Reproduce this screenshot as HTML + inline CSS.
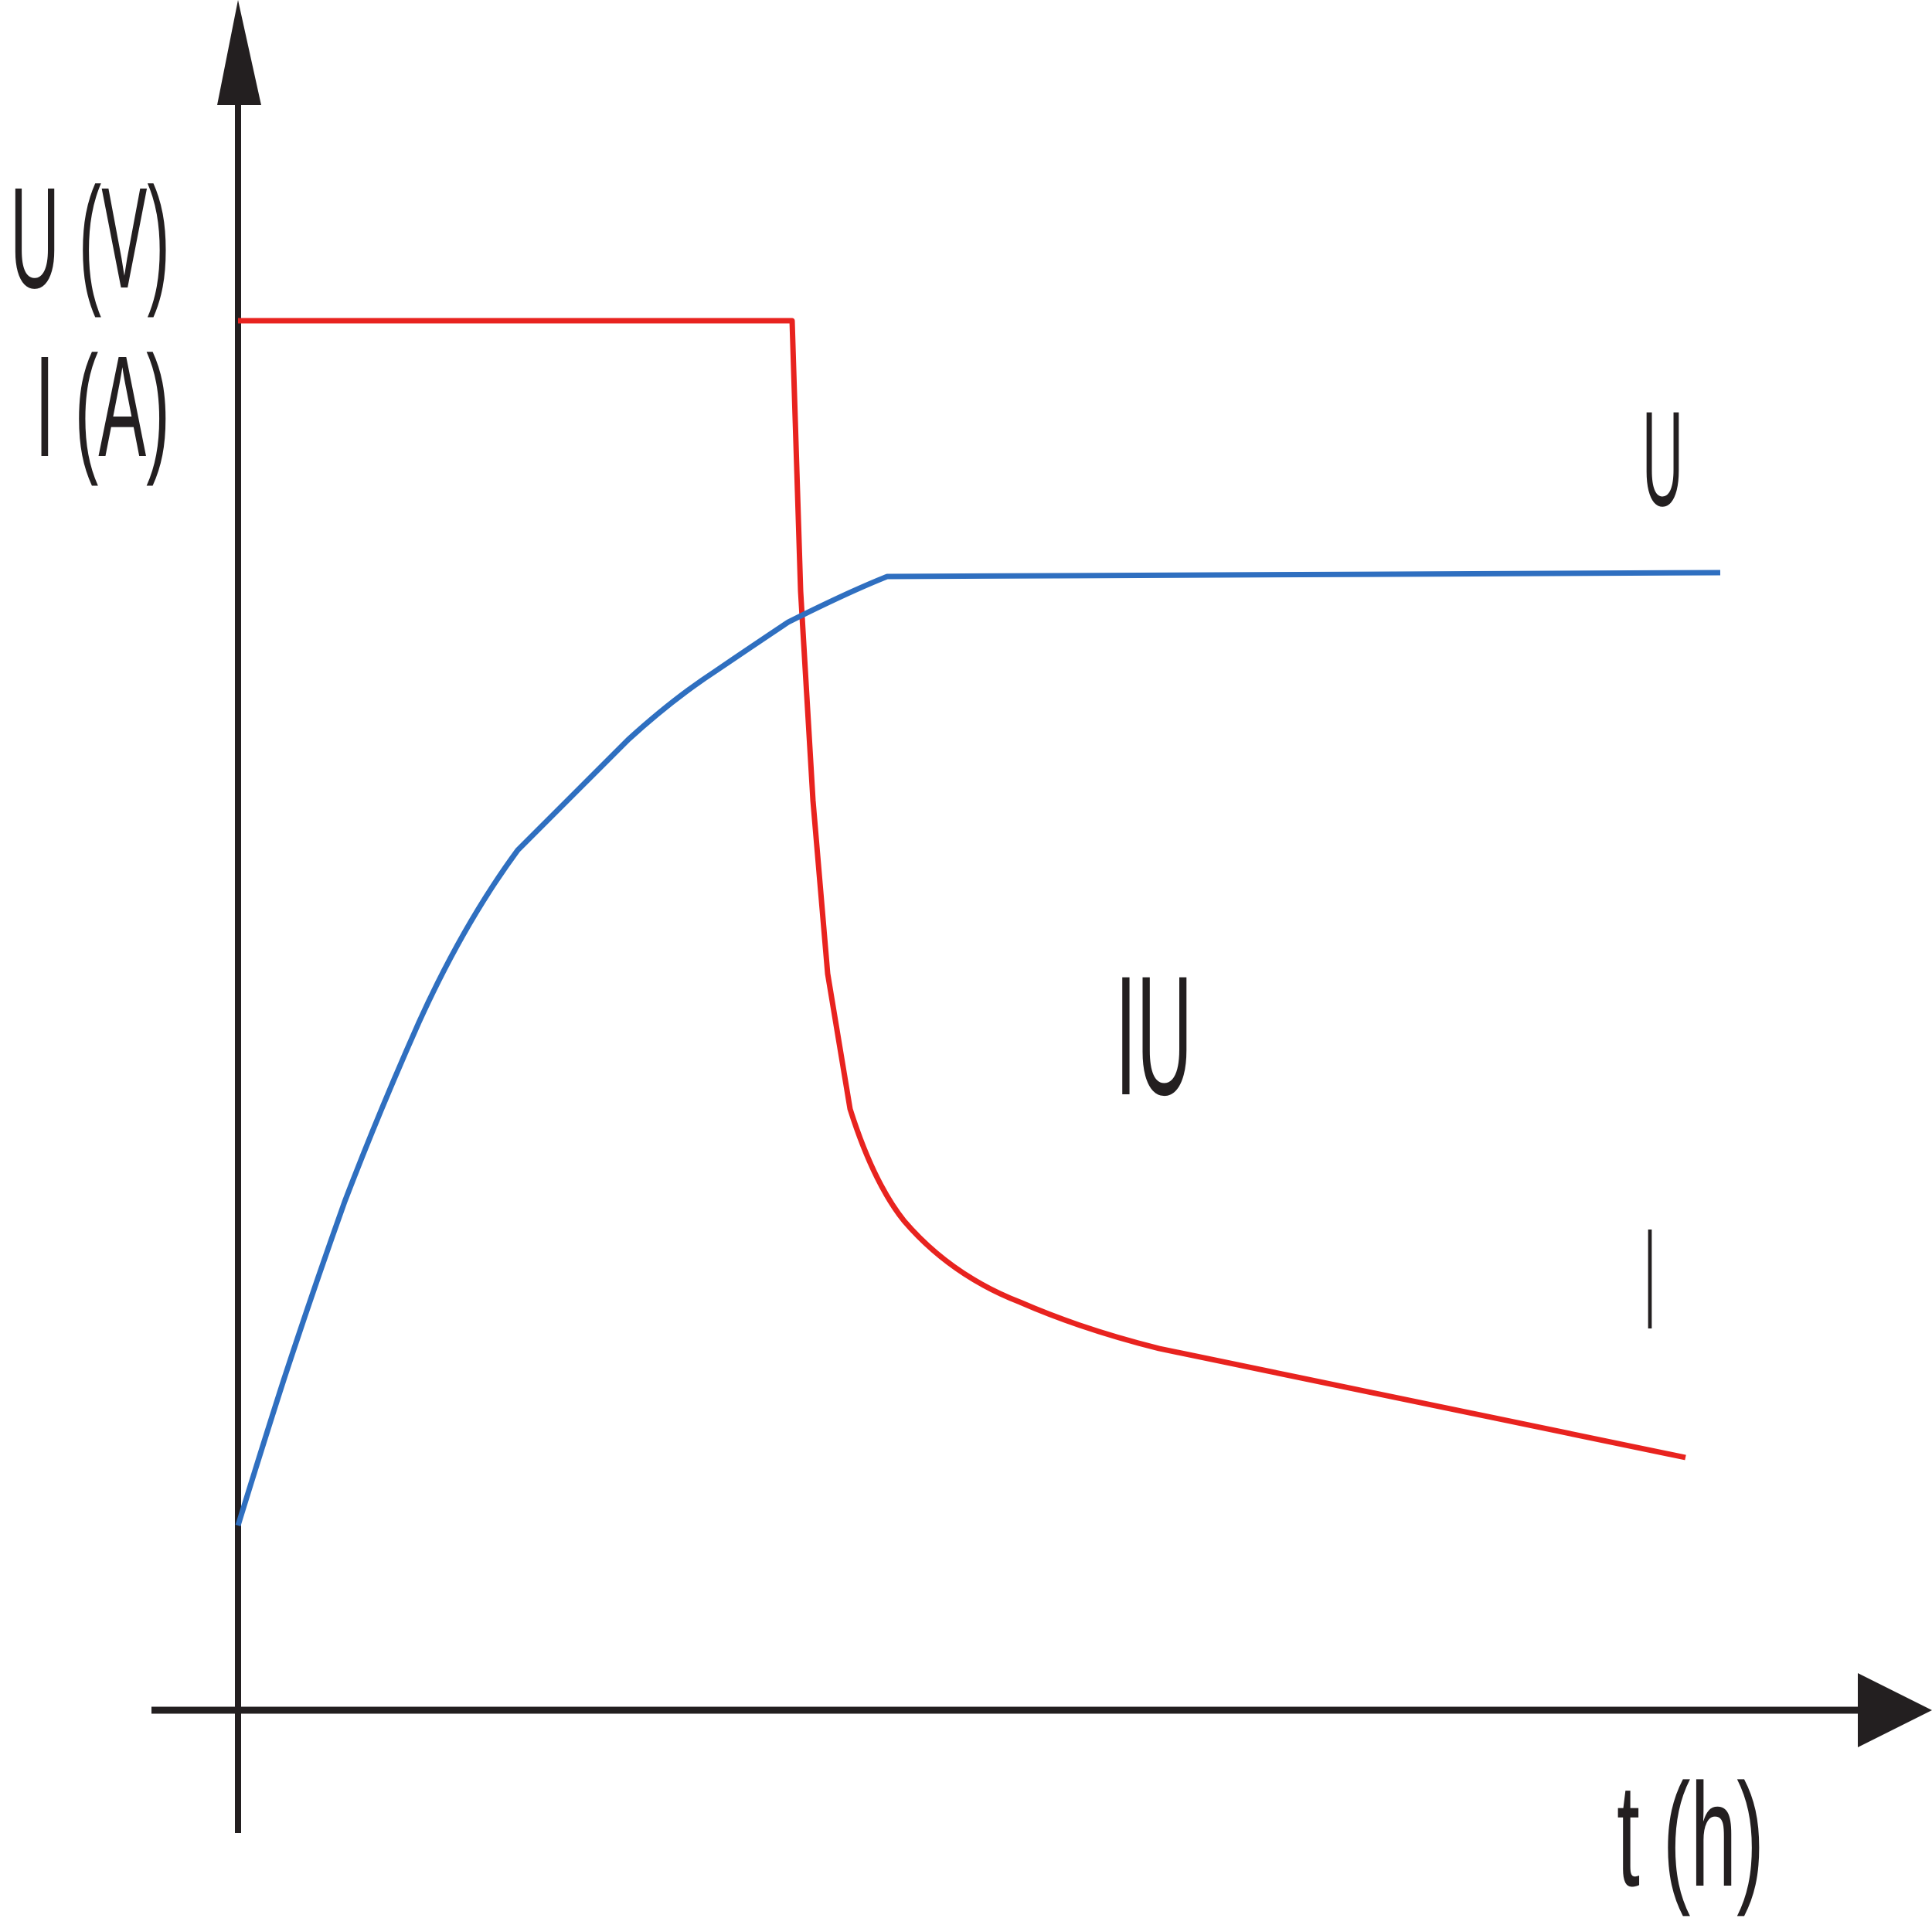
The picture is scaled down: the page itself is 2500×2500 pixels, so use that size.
<!DOCTYPE html>
<html><head><meta charset="utf-8"><style>html,body{margin:0;padding:0;background:#fff}svg{display:block}</style></head>
<body>
<svg width="2500" height="2500" viewBox="0 0 2500 2500" xmlns="http://www.w3.org/2000/svg">
<rect width="2500" height="2500" fill="#fff"/>
<g fill="none" stroke-linejoin="round" stroke-linecap="butt">
<path d="M308 130 V2372" stroke="#231f20" stroke-width="8"/>
<path d="M196 2213 H2410" stroke="#231f20" stroke-width="9"/>
<path d="M308 415 H1025 L1036 765 L1052 1036 L1071 1260 L1100 1435 Q1130 1530 1170 1580 Q1230 1650 1320 1685 Q1400 1720 1500 1745 L2181 1886" stroke="#e8231f" stroke-width="7"/>
<path d="M308 1974 Q340 1870 367 1786 Q405 1670 446 1555 Q490 1440 542 1323 Q600 1195 670 1100 L813 957 Q870 905 925 869 Q975 835 1020 805 Q1100 765 1148 746 L2226 741" stroke="#2f6fc0" stroke-width="7"/>
</g>
<polygon points="308,0 281,136 338,136" fill="#231f20"/>
<polygon points="2500,2213 2404,2165 2404,2261" fill="#231f20"/>
<g fill="#231f20" font-family="'Liberation Sans Narrow','Liberation Sans',sans-serif">
<text x="13" y="372" font-size="186" textLength="207" lengthAdjust="spacingAndGlyphs">U (V)</text>
<text x="45" y="590" font-size="186" textLength="175" lengthAdjust="spacingAndGlyphs">I (A)</text>
<text x="2125" y="654" font-size="175" textLength="53" lengthAdjust="spacingAndGlyphs">U</text>
<text x="1443" y="1416" font-size="220" textLength="100" lengthAdjust="spacingAndGlyphs">IU</text>
<text x="2128" y="1719" font-size="186" textLength="14" lengthAdjust="spacingAndGlyphs">I</text>
<text x="2092" y="2440" font-size="190" textLength="191" lengthAdjust="spacingAndGlyphs">t (h)</text>
</g>
</svg>
</body></html>
